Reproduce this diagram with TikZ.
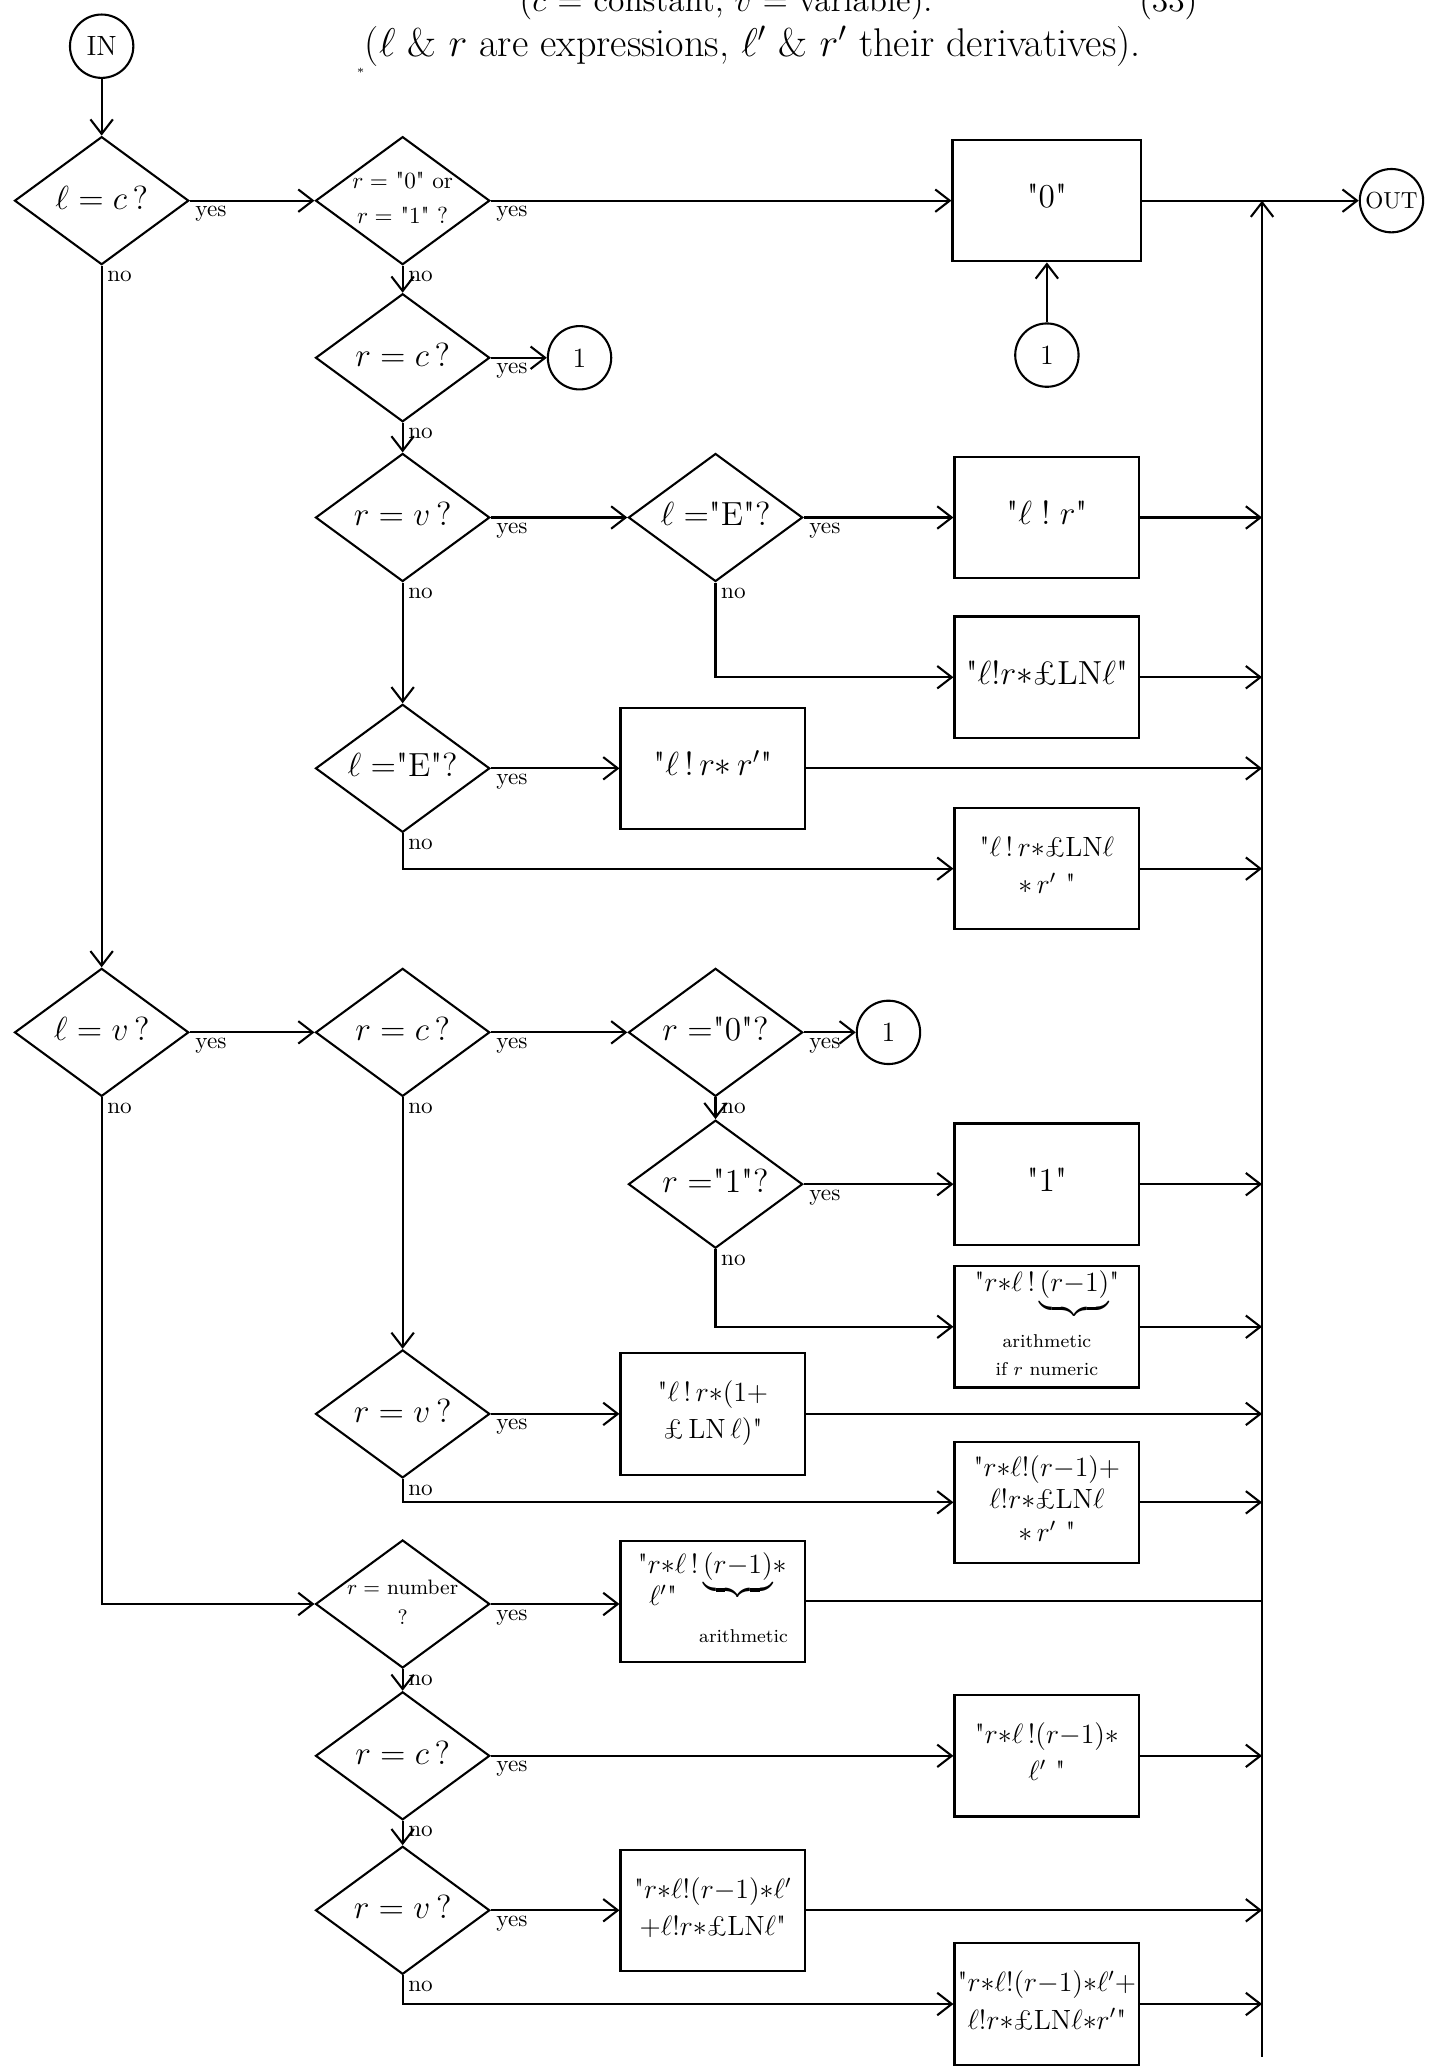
\documentclass[tikz,border=0pt]{standalone}
\usepackage{amsmath, amssymb}
\usepackage{mathtools}
\usetikzlibrary{positioning, arrows.meta, shapes.geometric}

% straight double quote
\newcommand{\dq}{\textquotedbl}
% text of a node, kept from widening the node
\newcommand{\inbox}[2][c]{\makebox[0pt]{\begin{tabular}{@{}#1@{}}#2\end{tabular}}}

\begin{document}
\begin{tikzpicture}[x=0.02cm, y=-0.02cm, line width=0.9pt,
    arr/.style={-{Straight Barb[length=2.2mm,width=3.4mm]}},
    decision/.style={diamond, draw, inner sep=0pt, minimum width=2.64cm, minimum height=1.94cm, font=\Large},
    result/.style={rectangle, draw, inner sep=0pt, minimum width=2.8cm, minimum height=1.84cm, font=\large},
    joint/.style={circle, draw, inner sep=0pt, minimum size=0.96cm, font=\large},
    lbl/.style={anchor=north west, inner sep=2pt, font=\normalsize}]
  \useasboundingbox (0,0) rectangle (1082,1568);

  % heading
  \node[anchor=base, font=\Large] (hdra) at (550,9) {($c$ = constant, $v$ = variable).};
  \node[anchor=base, font=\Large] (hdrnum) at (885,9) {(33)};
  \node[font=\LARGE] (hdrb) at (567,38) {\raisebox{-1ex}{\tiny$*$}($\ell$ \& $r$ are expressions, $\ell'$ \& $r'$ their derivatives).};

  % start and end
  \node[joint] (in) at (77,35) {IN};
  \node[joint, font=\normalsize] (out) at (1054,152) {OUT};

  % l = c
  \node[decision] (qlc) at (77,152) {\inbox{$\ell=c\,?$}};
  \node[decision, font=\normalsize] (qr01) at (305,152) {\inbox{$r=$ \dq{}0\dq{} or\\[3pt] $r=$ \dq{}1\dq{} ?}};
  \node[result, minimum width=2.86cm] (bzero) at (793,152) {\inbox{\Large \dq{}0\dq{}}};
  \node[joint] (c1b) at (793,269) {1};
  \node[decision] (qrc) at (305,271) {\inbox{$r=c\,?$}};
  \node[joint] (c1a) at (439,271) {1};
  \node[decision] (qrv) at (305,392) {\inbox{$r=v\,?$}};
  \node[decision] (qlE) at (542,392) {\inbox{$\ell=$\dq{}E\dq{}?}};
  \node[result] (blr) at (793,392) {\inbox{\Large \dq{}$\ell\;!\;r$\dq{}}};
  \node[result] (blrln) at (793,513) {\inbox{\Large \dq{}$\ell!r{*}$\pounds LN$\ell$\dq{}}};
  \node[decision] (qlEb) at (305,582) {\inbox{$\ell=$\dq{}E\dq{}?}};
  \node[result] (blrr) at (540,582) {\inbox{\Large \dq{}$\ell\,!\,r{*}\,r'$\dq{}}};
  \node[result] (blrlnr) at (793,658) {\inbox{\dq{}$\ell\,!\,r{*}$\pounds LN$\ell$\\[2pt] ${*}\,r'$ \dq{}}};

  % l = v
  \node[decision] (qlv) at (77,782) {\inbox{$\ell=v\,?$}};
  \node[decision] (qrc2) at (305,782) {\inbox{$r=c\,?$}};
  \node[decision] (qr0) at (542,782) {\inbox{$r=$\dq{}0\dq{}?}};
  \node[joint] (c1c) at (673,782) {1};
  \node[decision] (qr1) at (542,897) {\inbox{$r=$\dq{}1\dq{}?}};
  \node[result] (bone) at (793,897) {\inbox{\Large \dq{}1\dq{}}};
  \node[result] (bpow) at (793,1005) {\inbox{\dq{}$r{*}\ell\,!\,\smash[b]{\underbrace{(r{-}1)}}$\dq{}\\[10pt] {\footnotesize arithmetic}\\[-2pt] {\footnotesize if $r$ numeric}}};
  \node[decision] (qrv2) at (305,1071) {\inbox{$r=v\,?$}};
  \node[result] (blrln1) at (540,1071) {\inbox{\dq{}$\ell\,!\,r{*}(1{+}$\\[2pt] \pounds\,LN$\,\ell)$\dq{}}};
  \node[result] (bsum) at (793,1138) {\inbox{\dq{}$r{*}\ell!(r{-}1){+}$\\ $\ell!r{*}$\pounds LN$\ell$\\ ${*}\,r'$ \dq{}}};

  % l is something else
  \node[decision, font=\small] (qrnum) at (305,1215) {\inbox{$r=$ number\\[2pt] ?}};
  \node[result] (barith) at (540,1213) {\inbox[l]{\dq{}$r{*}\ell\,!\,\smash[b]{\underbrace{(r{-}1)}}{*}$\\ \hspace{0.4em}$\ell'$\dq{}\\[2pt] \hspace*{2.2em}{\footnotesize arithmetic}}};
  \node[decision] (qrc3) at (305,1330) {\inbox{$r=c\,?$}};
  \node[result] (bprod) at (793,1330) {\inbox{\dq{}$r{*}\ell\,!(r{-}1){*}$\\[2pt] $\ell'$ \dq{}}};
  \node[decision] (qrv3) at (305,1447) {\inbox{$r=v\,?$}};
  \node[result] (bsum2) at (540,1447) {\inbox{\dq{}$r{*}\ell!(r{-}1){*}\ell'$\\[2pt] ${+}\ell!r{*}$\pounds LN$\ell$\dq{}}};
  \node[result] (bsum3) at (793,1518) {\inbox{\dq{}$r{*}\ell!(r{-}1){*}\ell'{+}$\\[2pt] $\ell!r{*}$\pounds LN$\ell{*}r'$\dq{}}};

  % collecting line to OUT
  \coordinate (bustop) at (956,152);
  \coordinate (busbot) at (956,1558);

  \draw[arr] (in) -- (qlc);
  \draw[arr] (qlc.east) -- node[lbl, pos=0] {yes} (qr01.west);
  \draw[arr] (qlc.south) -- node[lbl, pos=0] {no} (qlv.north);
  \draw[arr] (qr01.east) -- node[lbl, pos=0] {yes} (bzero.west);
  \draw[arr] (qr01.south) -- node[lbl, pos=0] {no} (qrc.north);
  \draw[arr] (bzero.east) -- (out.west);
  \draw[arr] (c1b) -- (bzero.south);
  \draw[arr] (qrc.east) -- node[lbl, pos=0] {yes} (c1a.west);
  \draw[arr] (qrc.south) -- node[lbl, pos=0] {no} (qrv.north);
  \draw[arr] (qrv.east) -- node[lbl, pos=0] {yes} (qlE.west);
  \draw[arr] (qlE.east) -- node[lbl, pos=0] {yes} (blr.west);
  \draw[arr] (qlE.south) |- node[lbl, pos=0] {no} (blrln.west);
  \draw[arr] (qrv.south) -- node[lbl, pos=0] {no} (qlEb.north);
  \draw[arr] (qlEb.east) -- node[lbl, pos=0] {yes} (blrr.west);
  \draw[arr] (qlEb.south) |- node[lbl, pos=0] {no} (blrlnr.west);

  \draw[arr] (qlv.east) -- node[lbl, pos=0] {yes} (qrc2.west);
  \draw[arr] (qrc2.east) -- node[lbl, pos=0] {yes} (qr0.west);
  \draw[arr] (qr0.east) -- node[lbl, pos=0] {yes} (c1c.west);
  \draw[arr] (qr0.south) -- node[lbl, pos=0] {no} (qr1.north);
  \draw[arr] (qr1.east) -- node[lbl, pos=0] {yes} (bone.west);
  \draw[arr] (qr1.south) |- node[lbl, pos=0] {no} (bpow.west);
  \draw[arr] (qrc2.south) -- node[lbl, pos=0] {no} (qrv2.north);
  \draw[arr] (qrv2.east) -- node[lbl, pos=0] {yes} (blrln1.west);
  \draw[arr] (qrv2.south) |- node[lbl, pos=0] {no} (bsum.west);

  \draw[arr] (qlv.south) |- node[lbl, pos=0] {no} (qrnum.west);
  \draw[arr] (qrnum.east) -- node[lbl, pos=0] {yes} (barith.west |- qrnum.east);
  \draw[arr] (qrnum.south) -- node[lbl, pos=0] {no} (qrc3.north);
  \draw[arr] (qrc3.east) -- node[lbl, pos=0] {yes} (bprod.west);
  \draw[arr] (qrc3.south) -- node[lbl, pos=0] {no} (qrv3.north);
  \draw[arr] (qrv3.east) -- node[lbl, pos=0] {yes} (bsum2.west);
  \draw[arr] (qrv3.south) |- node[lbl, pos=0] {no} (bsum3.west);

  % into the collecting line
  \draw[arr] (busbot) -- (bustop);
  \foreach \b in {blr, blrln, blrr, blrlnr, bone, bpow, blrln1, bsum, bprod, bsum2, bsum3}
    \draw[arr] (\b.east) -- (\b.east -| bustop);
  \draw (barith.east) -- (barith.east -| bustop);
\end{tikzpicture}
\end{document}
